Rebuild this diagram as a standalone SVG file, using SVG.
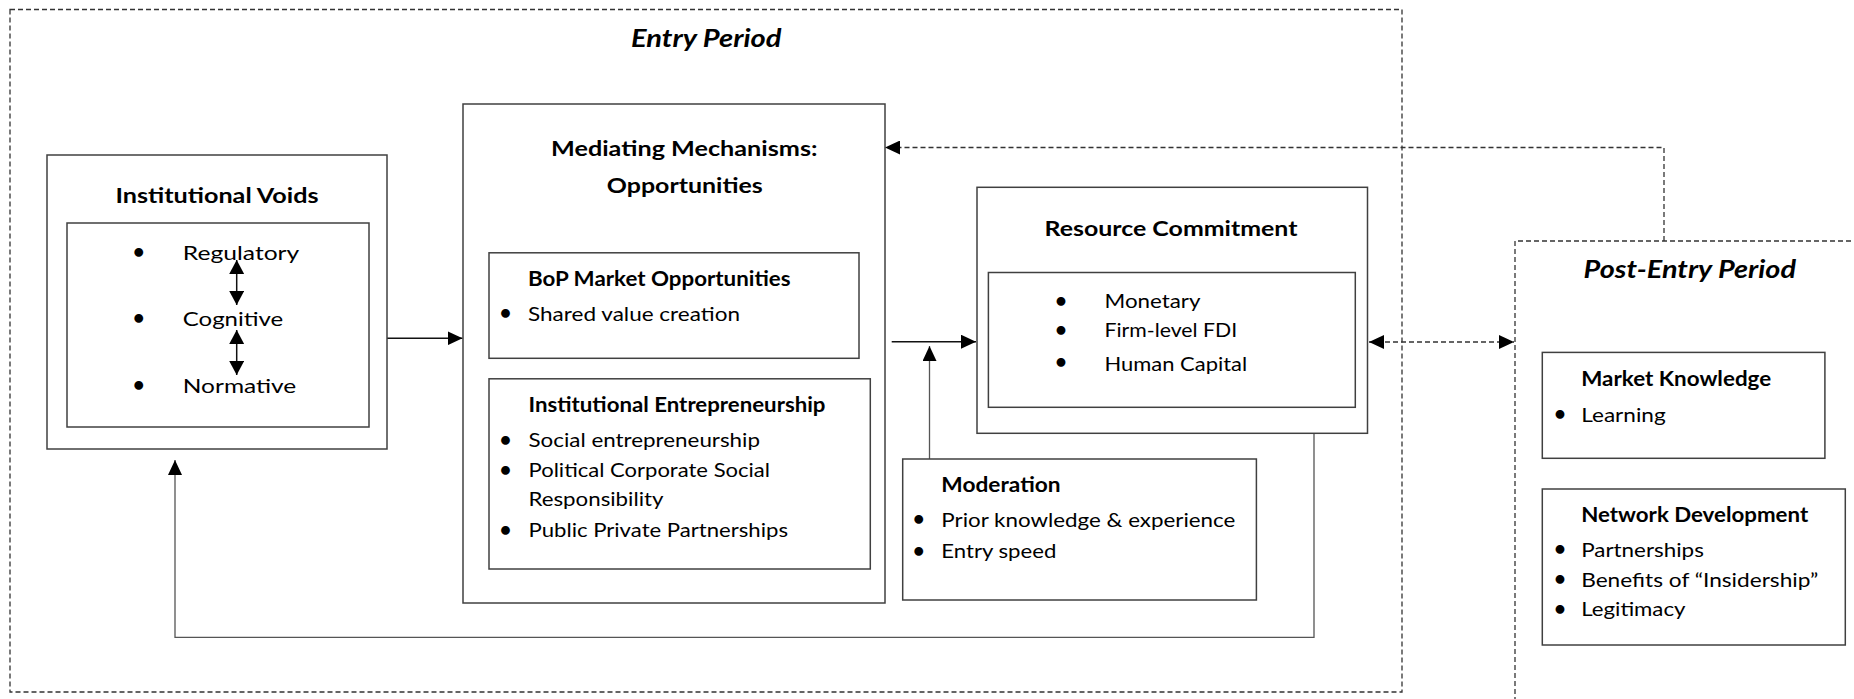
<svg xmlns="http://www.w3.org/2000/svg" width="1854" height="699" viewBox="0 0 1854 699">
<style>
.t{font-family:Lato,"Liberation Sans",sans-serif;font-size:20px;fill:#000}
.b{font-weight:bold}
.h{font-family:Lato,"Liberation Sans",sans-serif;font-size:24px;font-weight:bold;font-style:italic;fill:#000}
.bu{font-family:"DejaVu Sans",sans-serif;font-size:25px;font-weight:bold;text-anchor:middle;fill:#000}
.bx{fill:#fff;stroke:#404040;stroke-width:1.5}
.dash{fill:none;stroke:#333;stroke-width:1.3;stroke-dasharray:5 3}
.ln{fill:none;stroke:#111;stroke-width:1.5}
.ln2{fill:none;stroke:#555;stroke-width:1.3}
</style>
<defs>
<marker id="ah" viewBox="0 0 15 14" refX="15" refY="7" markerWidth="15" markerHeight="14" markerUnits="userSpaceOnUse" orient="auto-start-reverse"><path d="M0,0 L15,7 L0,14 z" fill="#000"/></marker>
<marker id="ahs" viewBox="0 0 14 15" refX="14" refY="7.5" markerWidth="14" markerHeight="15" markerUnits="userSpaceOnUse" orient="auto-start-reverse"><path d="M0,0 L14,7.5 L0,15 z" fill="#000"/></marker>
</defs>

<g id="entry-period">
<rect class="dash" x="10" y="9.5" width="1392" height="682.5"/>
<text class="h" x="631" y="46.7" textLength="150.5" lengthAdjust="spacingAndGlyphs">Entry Period</text>
</g>

<g id="post-entry-period">
<path class="dash" d="M1515,710 V241 H1870"/>
<text class="h" x="1583.5" y="278.3" textLength="212.5" lengthAdjust="spacingAndGlyphs">Post-Entry Period</text>
</g>

<g id="connectors">
<path class="dash" d="M1664,241 V147.5 H885" marker-end="url(#ah)"/>
<path class="dash" d="M1369,342 H1514" marker-start="url(#ah)" marker-end="url(#ah)"/>
<path class="ln" d="M387,338.3 H462.5" marker-end="url(#ah)"/>
<path class="ln" d="M891.7,341.7 H976" marker-end="url(#ah)"/>
<path class="ln2" d="M929.5,459 V346" marker-end="url(#ah)"/>
<path class="ln2" d="M1314,433.3 V637.3 H175 V460" marker-end="url(#ah)"/>
</g>

<g id="institutional-voids">
<rect class="bx" x="47" y="155" width="340" height="294"/>
<text class="t b" x="115.5" y="202.7" textLength="203" lengthAdjust="spacingAndGlyphs">Institutional Voids</text>
<rect class="bx" x="67" y="223" width="302" height="204"/>
<text class="bu" x="138.8" y="261.7">•</text>
<text class="t" x="182.8" y="259.7" textLength="116.5" lengthAdjust="spacingAndGlyphs">Regulatory</text>
<text class="bu" x="138.8" y="328.3">•</text>
<text class="t" x="182.8" y="326.3" textLength="100.5" lengthAdjust="spacingAndGlyphs">Cognitive</text>
<text class="bu" x="138.8" y="394.5">•</text>
<text class="t" x="182.8" y="392.7" textLength="113.5" lengthAdjust="spacingAndGlyphs">Normative</text>
<path class="ln" d="M236.7,260 V305" marker-start="url(#ahs)" marker-end="url(#ahs)"/>
<path class="ln" d="M236.7,330 V375" marker-start="url(#ahs)" marker-end="url(#ahs)"/>
</g>

<g id="mediating-mechanisms">
<rect class="bx" x="463" y="104" width="422" height="499"/>
<text class="t b" x="551" y="156" textLength="266.5" lengthAdjust="spacingAndGlyphs">Mediating Mechanisms:</text>
<text class="t b" x="606.8" y="192.7" textLength="156" lengthAdjust="spacingAndGlyphs">Opportunities</text>
</g>

<g id="bop-market-opportunities">
<rect class="bx" x="489" y="252.8" width="370" height="105.5"/>
<text class="t b" x="528" y="285.7" textLength="262.5" lengthAdjust="spacingAndGlyphs">BoP Market Opportunities</text>
<text class="bu" x="505.5" y="323">•</text>
<text class="t" x="528" y="320.7" textLength="212" lengthAdjust="spacingAndGlyphs">Shared value creation</text>
</g>

<g id="institutional-entrepreneurship">
<rect class="bx" x="489" y="378.8" width="381.3" height="190.2"/>
<text class="t b" x="528.5" y="411.7" textLength="297" lengthAdjust="spacingAndGlyphs">Institutional Entrepreneurship</text>
<text class="bu" x="505.5" y="449.7">•</text>
<text class="t" x="528.5" y="446.5" textLength="231.5" lengthAdjust="spacingAndGlyphs">Social entrepreneurship</text>
<text class="bu" x="505.5" y="479.7">•</text>
<text class="t" x="528.5" y="476.5" textLength="241.5" lengthAdjust="spacingAndGlyphs">Political Corporate Social</text>
<text class="t" x="528.5" y="506" textLength="135" lengthAdjust="spacingAndGlyphs">Responsibility</text>
<text class="bu" x="505.5" y="539.7">•</text>
<text class="t" x="528.5" y="536.5" textLength="259.5" lengthAdjust="spacingAndGlyphs">Public Private Partnerships</text>
</g>

<g id="resource-commitment">
<rect class="bx" x="977" y="187.3" width="390.5" height="246"/>
<text class="t b" x="1044.5" y="235.5" textLength="253" lengthAdjust="spacingAndGlyphs">Resource Commitment</text>
<rect class="bx" x="988.4" y="272.5" width="366.9" height="134.8"/>
<text class="bu" x="1061" y="310.7">•</text>
<text class="t" x="1104.5" y="307.5" textLength="96" lengthAdjust="spacingAndGlyphs">Monetary</text>
<text class="bu" x="1061" y="339.7">•</text>
<text class="t" x="1104.5" y="337.3" textLength="132.7" lengthAdjust="spacingAndGlyphs">Firm-level FDI</text>
<text class="bu" x="1061" y="372.3">•</text>
<text class="t" x="1104.5" y="371" textLength="142.7" lengthAdjust="spacingAndGlyphs">Human Capital</text>
</g>

<g id="moderation">
<rect class="bx" x="902.7" y="459" width="353.7" height="141"/>
<text class="t b" x="941.3" y="491.7" textLength="119.3" lengthAdjust="spacingAndGlyphs">Moderation</text>
<text class="bu" x="918.7" y="529.2">•</text>
<text class="t" x="941.3" y="526.7" textLength="294" lengthAdjust="spacingAndGlyphs">Prior knowledge &amp; experience</text>
<text class="bu" x="918.7" y="560.8">•</text>
<text class="t" x="941.3" y="558.3" textLength="115" lengthAdjust="spacingAndGlyphs">Entry speed</text>
</g>

<g id="market-knowledge">
<rect class="bx" x="1542.3" y="352.4" width="282.6" height="105.9"/>
<text class="t b" x="1581.2" y="385.5" textLength="190" lengthAdjust="spacingAndGlyphs">Market Knowledge</text>
<text class="bu" x="1560" y="424">•</text>
<text class="t" x="1581.2" y="421.5" textLength="84.5" lengthAdjust="spacingAndGlyphs">Learning</text>
</g>

<g id="network-development">
<rect class="bx" x="1542.3" y="489" width="303" height="156"/>
<text class="t b" x="1581.2" y="521.7" textLength="227" lengthAdjust="spacingAndGlyphs">Network Development</text>
<text class="bu" x="1560" y="559">•</text>
<text class="t" x="1581.2" y="556.7" textLength="122.7" lengthAdjust="spacingAndGlyphs">Partnerships</text>
<text class="bu" x="1560" y="589">•</text>
<text class="t" x="1581.2" y="587" textLength="237" lengthAdjust="spacingAndGlyphs">Benefits of “Insidership”</text>
<text class="bu" x="1560" y="618.5">•</text>
<text class="t" x="1581.2" y="616" textLength="104.3" lengthAdjust="spacingAndGlyphs">Legitimacy</text>
</g>
</svg>
